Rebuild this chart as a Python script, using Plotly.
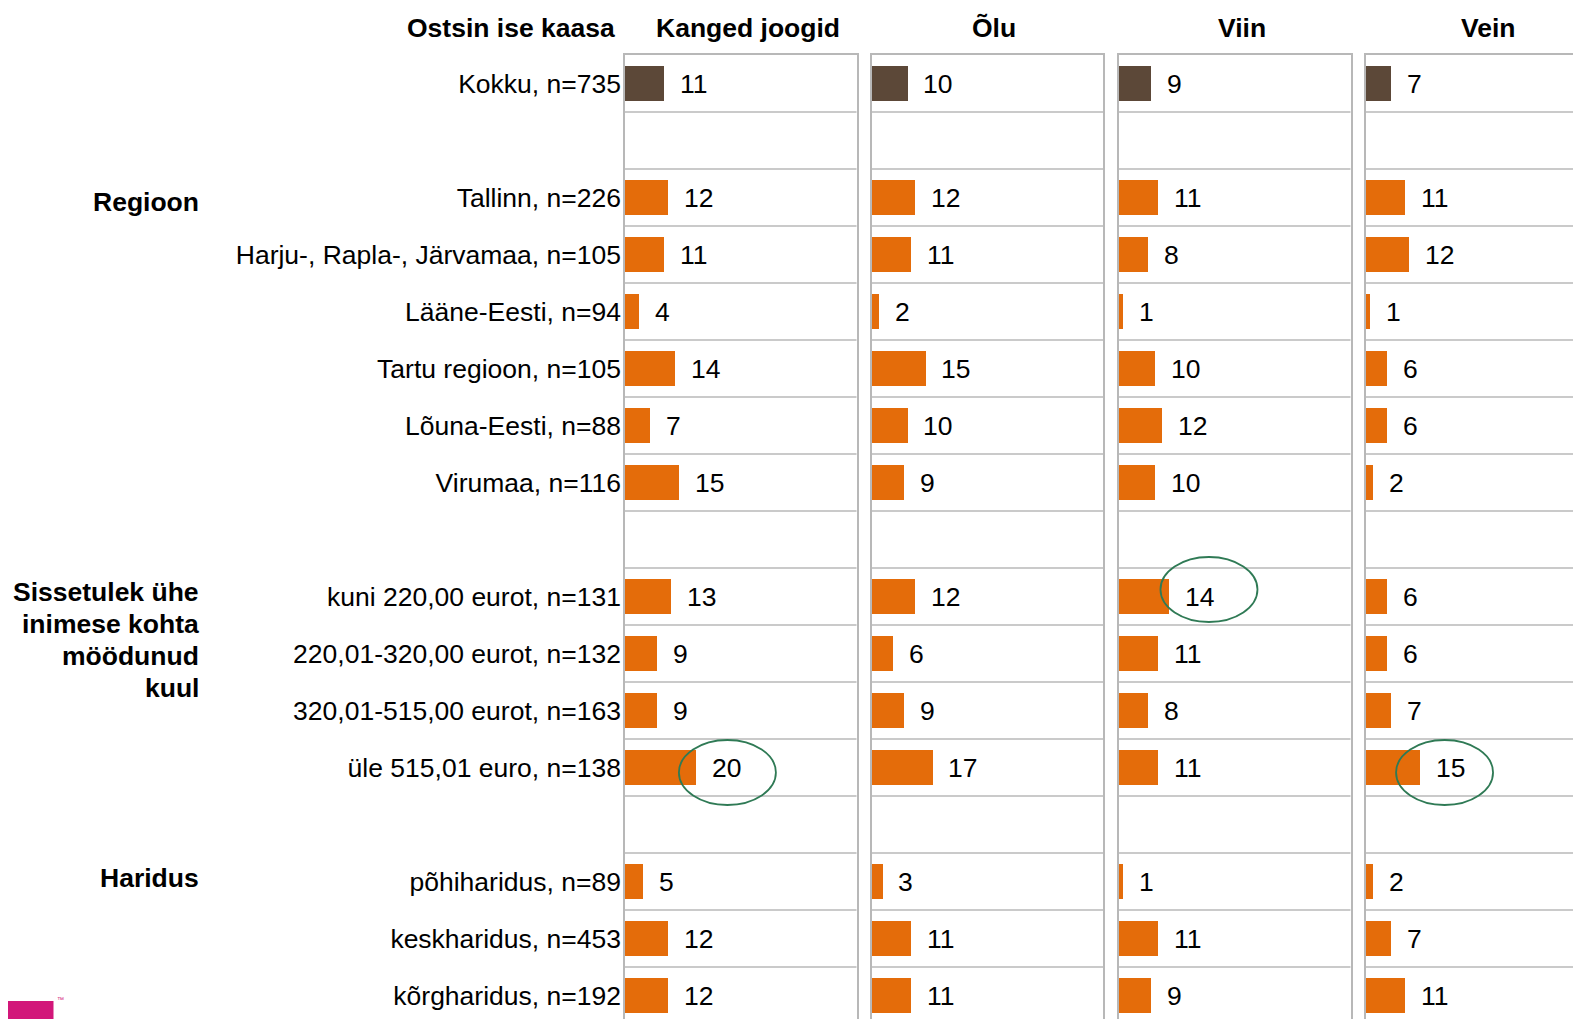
import plotly.graph_objects as go

# ---------------- data ----------------
categories = [
    "Kokku, n=735", "",
    "Tallinn, n=226", "Harju-, Rapla-, Järvamaa, n=105", "Lääne-Eesti, n=94",
    "Tartu regioon, n=105", "Lõuna-Eesti, n=88", "Virumaa, n=116", "",
    "kuni 220,00 eurot, n=131", "220,01-320,00 eurot, n=132",
    "320,01-515,00 eurot, n=163", "üle 515,01 euro, n=138", "",
    "põhiharidus, n=89", "keskharidus, n=453", "kõrgharidus, n=192",
]
panels = ["Kanged joogid", "Õlu", "Viin", "Vein"]
kanged = [11, None, 12, 11, 4, 14, 7, 15, None, 13, 9, 9, 20, None, 5, 12, 12]
olu    = [10, None, 12, 11, 2, 15, 10, 9, None, 12, 6, 9, 17, None, 3, 11, 11]
viin   = [9, None, 11, 8, 1, 10, 12, 10, None, 14, 11, 8, 11, None, 1, 11, 9]
vein   = [7, None, 11, 12, 1, 6, 6, 2, None, 6, 6, 7, 15, None, 2, 7, 11]
series = [kanged, olu, viin, vein]
header_left = "Ostsin ise kaasa"
groups = [(["Regioon"], "Tallinn, n=226"),
          (["Sissetulek ühe", "inimese kohta", "möödunud", "kuul"], "kuni 220,00 eurot, n=131"),
          (["Haridus"], "põhiharidus, n=89")]
# highlighted values (panel index, category)
highlights = [(0, "üle 515,01 euro, n=138"), (2, "kuni 220,00 eurot, n=131"),
              (3, "üle 515,01 euro, n=138")]

# ---------------- style ----------------
W, H = 1581, 1019
OFF = 8           # page body margin
FONT = "Arial, 'Liberation Sans', sans-serif"
FS = 26.5
ORANGE = "#E46C0A"
BROWN = "#5C4838"
GRID = "#B8B8B8"
GREEN = "#2F7A55"
TOP = 55 - OFF    # px from top to first row
ROW = 57          # px per row
PANEL_W = 231.5
PANEL_LEFT = [625 - OFF, 871.7 - OFF, 1119 - OFF, 1366 - OFF]
PX_PER_UNIT = 3.57
HEADER_DX = 7

n = len(categories)
pos = list(range(n))
y_bottom = (H - TOP) / ROW - 0.5
ydom = [0, (H - TOP) / H]

fig = go.Figure()
shapes = []
annotations = []
layout = {}

for i, (name, vals) in enumerate(zip(panels, series)):
    sfx = "" if i == 0 else str(i + 1)
    xa, ya = "x" + sfx, "y" + sfx
    left = PANEL_LEFT[i]
    right = min(left + PANEL_W, W)
    xr = (right - left) / PX_PER_UNIT
    colors = [BROWN if c.startswith("Kokku") else ORANGE for c in categories]
    fig.add_trace(go.Bar(
        x=vals, y=pos, orientation="h", width=0.6,
        marker=dict(color=colors, line=dict(width=0)),
        xaxis=xa, yaxis=ya, hoverinfo="skip", showlegend=False,
    ))
    layout["xaxis" + sfx] = dict(
        domain=[left / W, right / W], range=[0, xr], side="top",
        showline=True, linecolor=GRID, linewidth=1.5, mirror=False,
        showgrid=False, zeroline=False, showticklabels=False, ticks="",
        anchor=ya, fixedrange=True,
    )
    layout["yaxis" + sfx] = dict(
        domain=ydom, range=[y_bottom, -0.5], anchor=xa,
        showline=True, linecolor=GRID, linewidth=1.5, mirror=(i < 3),
        showgrid=False, zeroline=False, ticks="",
        tickmode="array", tickvals=pos, ticktext=categories,
        showticklabels=(i == 0), ticklabelstandoff=-3,
        tickfont=dict(family=FONT, size=FS, color="#000000"),
        fixedrange=True,
    )
    # row separators
    for k in range(1, n):
        shapes.append(dict(type="line", xref=xa + " domain", yref=ya,
                           x0=0, x1=1, y0=k - 0.5, y1=k - 0.5,
                           line=dict(color=GRID, width=1.5), layer="below"))
    # value labels
    for p, v in zip(pos, vals):
        if v is None:
            continue
        annotations.append(dict(x=v, y=p, xref=xa, yref=ya, text=str(v),
                                showarrow=False, xanchor="left", yanchor="middle",
                                xshift=14, font=dict(family=FONT, size=FS, color="#000000")))
    # panel header
    annotations.append(dict(x=(left + PANEL_W / 2 + HEADER_DX) / W, y=1 - (28 - OFF) / H,
                            xref="paper", yref="paper",
                            text="<b>%s</b>" % name, showarrow=False,
                            xanchor="center", yanchor="middle",
                            font=dict(family=FONT, size=FS, color="#000000")))

# left header
annotations.append(dict(x=(617 - OFF) / W, y=1 - (28 - OFF) / H, xref="paper", yref="paper",
                        text="<b>%s</b>" % header_left, showarrow=False,
                        xanchor="right", yanchor="middle",
                        font=dict(family=FONT, size=FS, color="#000000")))
# group labels
group_shift = [-4, 5, 4]
for (lines, cat), gs in zip(groups, group_shift):
    idx = categories.index(cat)
    for j, line in enumerate(lines):
        annotations.append(dict(x=(201 - OFF) / W, y=idx, xref="paper", yref="y",
                                yshift=gs - 32 * j,
                                text="<b>%s</b>" % line, showarrow=False,
                                xanchor="right", yanchor="middle", align="right",
                                font=dict(family=FONT, size=FS, color="#000000")))

# highlight ellipses around labels
ell_dx = [31, 40, 25]
ell_dy = [5, -7, 5]
for (pi, cat), dx, dy in zip(highlights, ell_dx, ell_dy):
    sfx = "" if pi == 0 else str(pi + 1)
    idx = categories.index(cat)
    v = series[pi][idx]
    shapes.append(dict(type="circle", xref="x" + sfx, yref="y" + sfx,
                       xsizemode="pixel", ysizemode="pixel",
                       xanchor=v, yanchor=idx,
                       x0=dx - 48.5, x1=dx + 48.5, y0=-dy - 32.5, y1=-dy + 32.5,
                       line=dict(color=GREEN, width=1.8), layer="above"))

# logo block bottom-left
shapes.append(dict(type="rect", xref="paper", yref="paper",
                   x0=0, x1=(53.5 - OFF) / W,
                   y0=(H - (1019 - OFF)) / H, y1=(H - (1001 - OFF)) / H,
                   fillcolor="#D2177A", line=dict(width=0)))
annotations.append(dict(x=(55 - OFF) / W, y=(H - (994 - OFF)) / H, xref="paper", yref="paper",
                        text="™", showarrow=False, xanchor="left", yanchor="top",
                        font=dict(family=FONT, size=7, color="#D2177A")))

fig.update_layout(
    width=W, height=H, margin=dict(l=0, r=0, t=0, b=0),
    paper_bgcolor="white", plot_bgcolor="white",
    shapes=shapes, annotations=annotations, bargap=0,
    **layout,
)
fig.write_html("out.html", config={"displayModeBar": False})
